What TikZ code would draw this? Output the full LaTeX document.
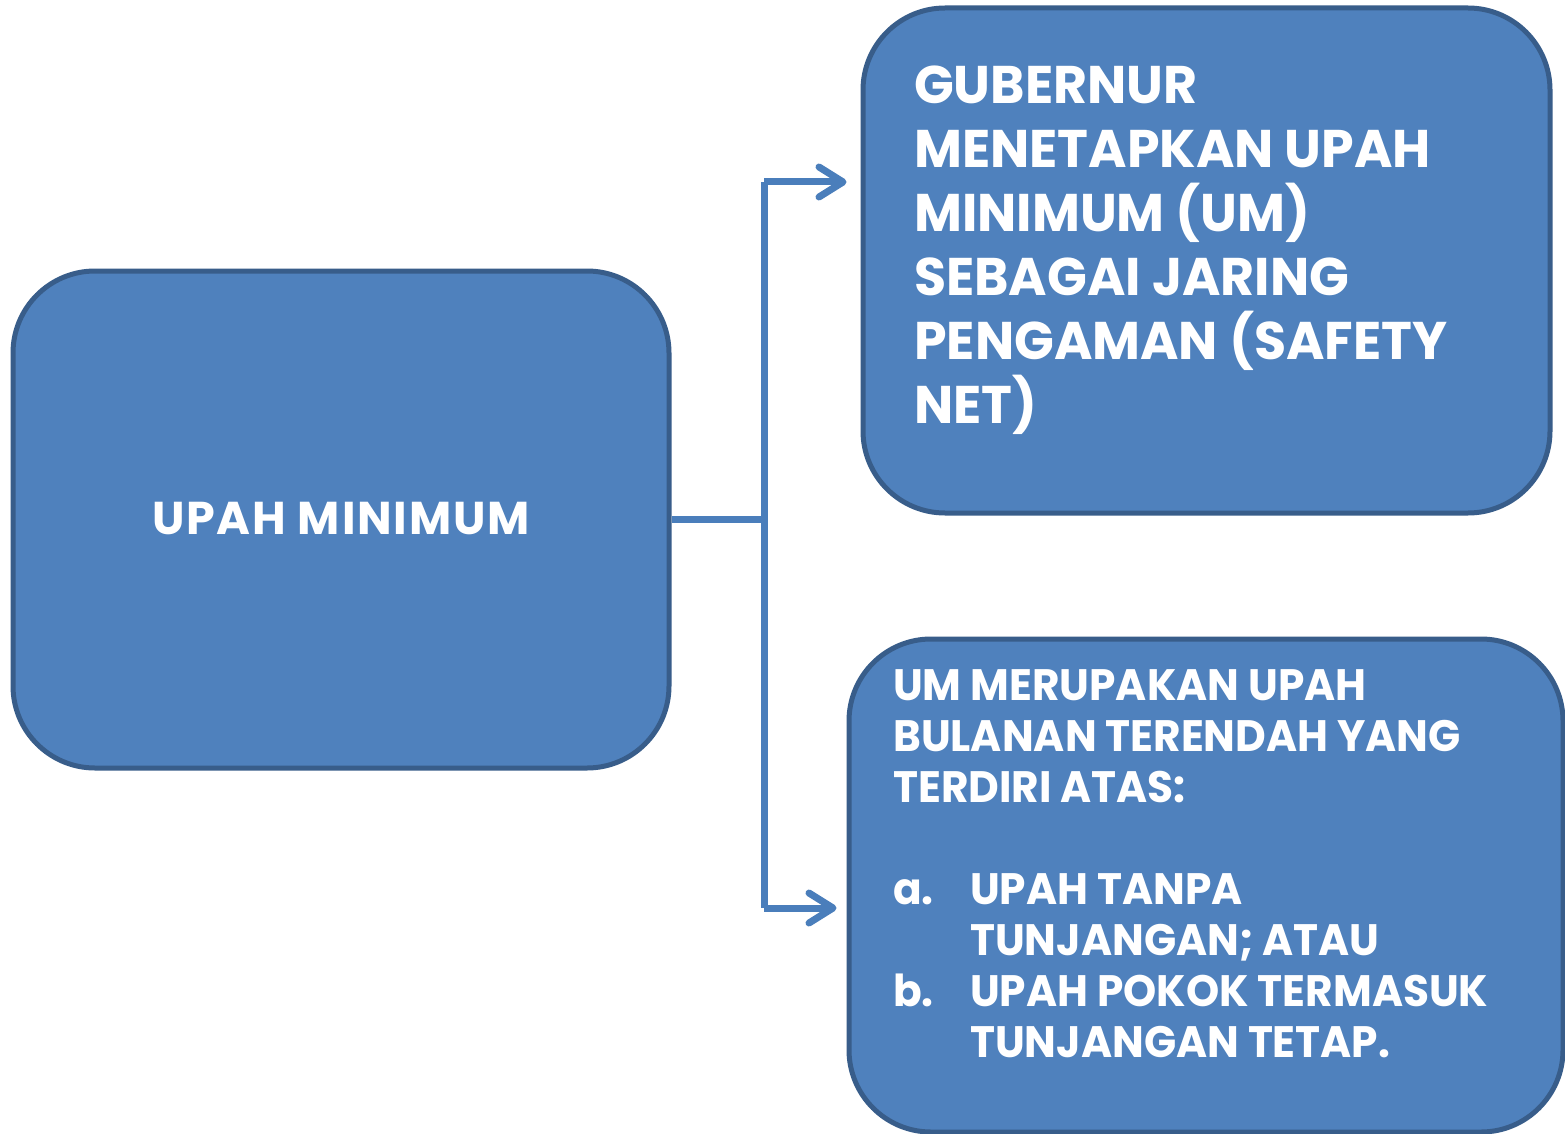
\documentclass[tikz,border=0pt]{standalone}
\usepackage{fontspec}
\setmainfont{Poppins}
\newfontfamily\popwide{Poppins}[LetterSpace=4]
\newfontfamily\popnarrow{Poppins}[FakeStretch=0.96]
\newfontfamily\poptop{Poppins}[FakeStretch=0.985]
\usetikzlibrary{arrows.meta}
\definecolor{boxfill}{HTML}{4F81BD}
\definecolor{boxline}{HTML}{385D8A}
\definecolor{connc}{HTML}{4A7EBB}
\tikzset{
  boxnode/.style={draw=boxline, line width=5pt, fill=boxfill, rounded corners=82pt, inner sep=0pt},
  conn/.style={draw=connc, line width=7pt},
  arr/.style={conn, -{Straight Barb[length=24pt, width=30pt, round]}},
  txt/.style={text=white, font=\bfseries, inner sep=0pt, align=left}
}
\begin{document}
\begin{tikzpicture}[x=1pt, y=-1pt]
\useasboundingbox[fill=white] (0,0) rectangle (1565,1134);
\node[boxnode, minimum width=656pt, minimum height=497pt] (left) at (341,519.5) {};
\node[boxnode, minimum width=687pt, minimum height=505pt] (top) at (1206.5,260.5) {};
\node[boxnode, minimum width=714pt, minimum height=493pt] (bot) at (1206,885.5) {};
\node[txt, font=\popwide\bfseries\fontsize{46pt}{52pt}\selectfont, anchor=base] (lt) at (341,534) {UPAH MINIMUM};
\node[txt, font=\poptop\bfseries\fontsize{53pt}{64pt}\selectfont, anchor=north west] (tt) at (914,66) {GUBERNUR\\MENETAPKAN UPAH\\MINIMUM (UM)\\SEBAGAI JARING\\PENGAMAN (SAFETY\\NET)};
\node[txt, font=\popnarrow\bfseries\fontsize{44pt}{51pt}\selectfont, anchor=north west] (bt) at (893,669) {UM MERUPAKAN UPAH\\BULANAN TERENDAH YANG\\TERDIRI ATAS:\\[51pt]\makebox[77pt][l]{a.}UPAH TANPA\\\hspace*{77pt}TUNJANGAN; ATAU\\\makebox[77pt][l]{b.}UPAH POKOK TERMASUK\\\hspace*{77pt}TUNJANGAN TETAP.};
\coordinate (jt) at (764,182);
\coordinate (jb) at (764,908);
\draw[conn] (left.east) -- (left.east -| jt);
\draw[conn] (jt) -- (jb);
\draw[arr, shorten >=14pt] (jt) -- (jt -| top.west);
\draw[arr, shorten >=10pt] (jb) -- (jb -| bot.west);
\end{tikzpicture}
\end{document}
